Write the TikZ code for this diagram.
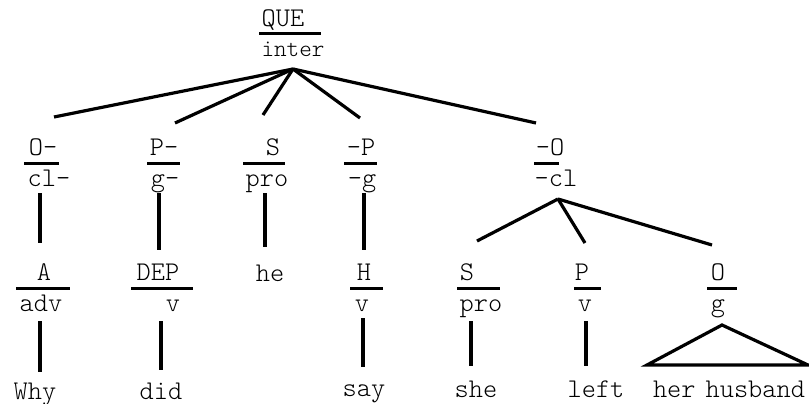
\documentclass[tikz,border=0pt]{standalone}
\begin{document}
\begin{tikzpicture}[
		x=1pt, y=-1pt,
		lab/.style={
			anchor=base,
			inner sep=0pt,
			font=\ttfamily\fontseries{l}\fontsize{27}{27}\selectfont
		},
		word/.style={
			anchor=base,
			inner sep=0pt,
			font=\ttfamily\fontseries{l}\fontsize{27}{27}\selectfont
		},
		bar/.style={line width=3pt},
		branch/.style={line width=3.2pt}
		]
		\useasboundingbox (0,0) rectangle (809,404);
		
		% Root
		\node[lab] (que) at (283,27) {QUE};
		\draw[bar] (259,33.5) -- (321,33.5);
		\node[lab, font=\ttfamily\fontseries{l}\fontsize{24}{24}\selectfont] (inter) at (293,57) {inter};
		\coordinate (inter-b) at (293,69);
		
		% Clause constituents
		\node[lab] (adjunct) at (43,155) {O-};
		\draw[bar] (24,163) -- (59,163);
		\node[lab] (adjunct-c) at (49,186) {cl-};
		
		\node[lab] (pred1) at (164,155) {P-};
		\draw[bar] (147,163) -- (180,163);
		\node[lab] (pred1-c) at (165,186) {g-};
		
		\node[lab] (subj1) at (273,155) {S};
		\draw[bar] (243,163) -- (285,163);
		\node[lab] (subj1-c) at (267,186) {pro};
		
		\node[lab] (pred2) at (361,155) {-P};
		\draw[bar] (344,163) -- (377,163);
		\node[lab] (pred2-c) at (362,186) {-g};
		
		\node[lab] (obj1) at (550,155) {-O};
		\draw[bar] (534,163) -- (559,163);
		\node[lab] (obj1-c) at (556,186) {-cl};
		
		% Lower layer
		\node[lab] (adv) at (44,280) {A};
		\draw[bar] (16,288) -- (70,288);
		\node[lab] (adv-c) at (41,311) {adv};
		
		\node[lab] (dep) at (158,280) {DEP};
		\draw[bar] (131,288) -- (193,288);
		\node[lab] (dep-c) at (173,311) {v};
		
		\node[word] (he) at (270,281) {he};
		
		\node[lab] (head) at (364,280) {H};
		\draw[bar] (350,288) -- (383,288);
		\node[lab] (head-c) at (362,311) {v};
		
		\node[lab] (subj2) at (467,280) {S};
		\draw[bar] (457,288) -- (500,288);
		\node[lab] (subj2-c) at (481,311) {pro};
		
		\node[lab] (pred3) at (582,280) {P};
		\draw[bar] (574,288) -- (601,288);
		\node[lab] (pred3-c) at (585,311) {v};
		
		\node[lab] (obj2) at (718,280) {O};
		\draw[bar] (707,288) -- (737,288);
		\node[lab] (obj2-c) at (718,311) {g};
		
		% Words
		\node[word] (why) at (35,399) {Why};
		\node[word] (did) at (161,399) {did};
		\node[word] (say) at (364,396) {say};
		\node[word] (she) at (476,397) {she};
		\node[word] (left) at (596,397) {left};
		\node[word] (husband) at (729,397) {her\hspace{-4pt} husband};
		
		% Branch ends
		\coordinate (adjunct-t) at (54,117);
		\coordinate (pred1-t) at (175,123);
		\coordinate (subj1-t) at (263,115);
		\coordinate (pred2-t) at (360,118);
		\coordinate (obj1-t) at (536,123);
		\coordinate (obj1-b) at (558,199);
		\coordinate (subj2-t) at (477,241);
		\coordinate (pred3-t) at (585,243);
		\coordinate (obj2-t) at (712,245);
		\coordinate (obj2-b) at (722,325);
		
		% Branches
		\draw[branch] (inter-b) -- (adjunct-t);
		\draw[branch] (inter-b) -- (pred1-t);
		\draw[branch] (inter-b) -- (subj1-t);
		\draw[branch] (inter-b) -- (pred2-t);
		\draw[branch] (inter-b) -- (obj1-t);
		
		\draw[branch] (40,193) -- (40,243);
		\draw[branch] (159,193) -- (159,250);
		\draw[branch] (265,193) -- (265,247);
		\draw[branch] (364,193) -- (364,250);
		
		\draw[branch] (obj1-b) -- (subj2-t);
		\draw[branch] (obj1-b) -- (pred3-t);
		\draw[branch] (obj1-b) -- (obj2-t);
		
		\draw[branch] (40,321) -- (40,372);
		\draw[branch] (161,321) -- (161,370);
		\draw[branch] (363,318) -- (363,367);
		\draw[branch] (471,321) -- (471,366);
		\draw[branch] (586,321) -- (586,366);
		
		% Roof over the object group
		\draw[branch, line join=miter] (obj2-b) -- (808,365) -- (647,365) -- cycle;
		
	\end{tikzpicture}
\end{document}
